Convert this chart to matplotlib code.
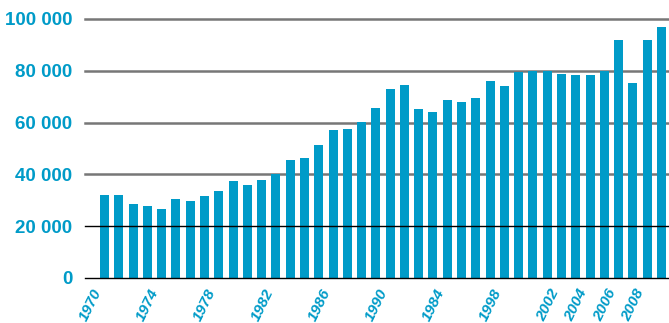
"""
Yearly totals 1970-2009, blue bar chart.
"""

import matplotlib
matplotlib.use("Agg")
import matplotlib.pyplot as plt
from matplotlib.transforms import ScaledTranslation

#___Data___#
years = list(range(1970, 2010))
values = [32000, 32000, 28600, 27800, 26600, 30500, 29700, 31700, 33600, 37500,
          35900, 37800, 40200, 45600, 46300, 51400, 57100, 57500, 60200, 65600,
          73000, 74500, 65300, 64100, 68700, 68000, 69500, 76100, 74100, 79700,
          79900, 79900, 78800, 78400, 78400, 79900, 91900, 75300, 91900, 96900]

tick_years = [1970, 1974, 1978, 1982, 1986, 1990, 1994, 1998, 2002, 2004, 2006, 2008]
tick_labels = ["1970", "1974", "1978", "1982", "1986", "1990", "1984", "1998",
               "2002", "2004", "2006", "2008"]

y_ticks = [0, 20000, 40000, 60000, 80000, 100000]
y_labels = ["0", "20 000", "40 000", "60 000", "80 000", "100 000"]

#___Style___#
blue = "#009bc8"
W, H = 669, 323

fig = plt.figure(figsize=(W / 100, H / 100), dpi=100)
ax = fig.add_axes([85 / W, 1 - 278 / H, (W - 85) / W, (278 - 19) / H])

ax.bar(years, values, width=0.63, color=blue, zorder=2)

#___Grid_Lines___#
for yv in y_ticks:
    if yv <= 20000:
        ax.axhline(yv, color="black", lw=1.0, zorder=3, clip_on=False)
    else:
        ax.axhline(yv, color="#777777", lw=1.8, zorder=1, clip_on=False)

ax.set_xlim(1968.63, 2009.53)
ax.set_ylim(0, 100000)

ax.set_yticks(y_ticks)
ax.set_yticklabels(y_labels, fontfamily="Liberation Sans", fontweight="bold",
                   fontsize=13.5, color=blue)
ax.set_xticks(tick_years)
ax.set_xticklabels(tick_labels, fontfamily="Liberation Sans", fontstyle="italic",
                   fontweight="bold", fontsize=11, color=blue, rotation=64,
                   ha="right", va="top")
# shift the year labels a bit to the right, like the original
shift = ScaledTranslation(5 / 100, 0, fig.dpi_scale_trans)
for lbl in ax.get_xticklabels():
    lbl.set_transform(lbl.get_transform() + shift)

ax.tick_params(axis="y", length=0, pad=9)
ax.tick_params(axis="x", length=0, pad=6)
for s in ax.spines.values():
    s.set_visible(False)

fig.savefig("out.png", dpi=100)
